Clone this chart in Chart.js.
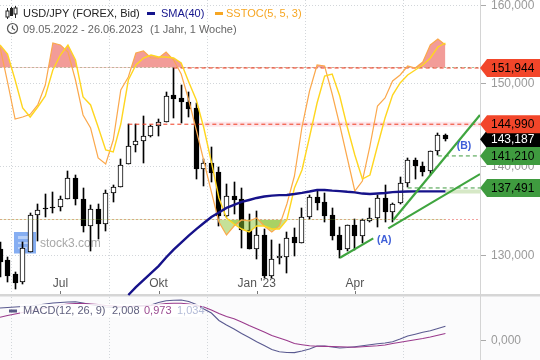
<!DOCTYPE html>
<html><head><meta charset="utf-8">
<script src="https://cdn.jsdelivr.net/npm/chart.js@4"></script>
<style>html,body{margin:0;padding:0;background:#fff}#w{position:relative;width:540px;height:360px}canvas{display:block}</style>
</head><body><div id="w"><canvas id="c" width="540" height="360"></canvas></div>
<script>
const opens=[130.67,129.48,127.97,127.16,130.37,134.46,135.22,135.37,135.29,136.20,138.60,136.23,133.24,135.10,133.39,136.88,137.63,140.22,142.46,142.94,143.54,144.73,145.30,148.56,148.20,147.74,146.93,139.64,140.34,139.29,134.35,136.57,136.23,132.75,130.70,132.17,127.80,129.66,129.84,131.95,131.36,134.24,136.42,135.90,134.43,132.20,130.64,133.31,132.12,133.79,134.06,136.31,134.80,135.75,138.02,140.70,139.99,139.41,141.76,143.69];
const closes=[129.30,127.76,127.05,130.81,134.40,134.96,135.14,135.18,136.20,138.60,136.20,133.24,135.07,133.46,136.88,137.56,140.11,142.41,142.94,143.54,144.73,145.30,148.40,148.10,147.74,146.88,139.71,140.41,139.25,134.35,136.54,136.16,132.75,130.70,132.17,127.80,129.56,129.88,131.84,131.36,134.24,136.42,135.81,134.32,132.12,130.59,133.29,132.12,133.87,134.06,136.31,134.80,135.64,138.02,140.70,139.99,139.36,141.76,143.65,143.19];
const highs=[131.40,129.84,128.22,131.46,134.63,135.64,136.76,137.02,136.61,139.44,138.98,137.48,135.56,135.67,137.25,137.79,140.85,145.01,145.01,145.99,144.89,145.59,148.90,151.94,149.80,148.90,147.55,140.85,142.26,139.95,137.94,138.17,137.51,134.55,134.88,132.86,131.65,131.21,132.53,132.97,135.27,136.65,137.17,136.91,135.22,133.12,133.31,133.98,134.01,135.22,136.69,137.80,135.78,138.75,140.97,140.93,140.53,141.83,143.89,143.77];
const lows=[127.69,127.16,126.35,126.92,130.37,131.54,134.25,134.63,134.91,136.20,135.59,132.56,130.48,131.79,132.67,135.93,137.63,140.22,141.71,140.41,143.42,143.58,145.30,145.78,145.10,145.83,138.55,137.71,138.20,133.24,134.24,134.55,130.75,130.70,129.62,127.52,127.52,129.05,128.11,129.94,131.36,133.95,134.99,133.68,131.65,129.73,130.45,130.56,131.32,133.68,133.12,133.68,133.68,135.67,137.63,138.48,138.90,138.98,141.33,142.97];
const sma40=[125.76,126.59,127.34,128.08,128.83,129.75,130.61,131.38,132.14,132.86,133.53,134.21,134.71,135.22,135.56,135.90,136.12,136.35,136.52,136.61,136.67,136.69,136.80,136.93,137.08,137.25,137.25,137.18,137.13,137.05,136.99,136.85,136.80,136.85,136.91,137.02,137.06,137.09,137.10,137.10,137.10,137.10,137.10];
const smaStart=17;
const stocK=[88.09,74.27,59.67,60.46,61.53,65.2,73.09,89.67,88.88,86.12,75.06,61.25,56.12,44.28,41.91,51.38,71.12,76.25,85.72,86.51,83.75,83.75,86.12,82.96,77.43,67.17,55.33,43.09,30.86,19.02,13.89,17.44,19.81,19.41,20.6,17.44,15.07,17.44,26.12,37.17,56.51,70.72,80.98,80.59,69.54,57.3,44.28,31.25,35.2,49.01,64.8,67.96,74.67,77.04,80.59,79.8,82.17,88.88,91.25,88.88];
const stocD=[88.88,85.33,75.06,64.01,60.46,64.41,68.75,79.01,84.93,88.88,82.96,68.35,65.2,56.51,47.44,46.65,57.7,75.06,80.98,83.75,84.93,84.14,84.14,83.75,81.77,74.27,67.17,56.12,42.7,28.49,20.6,18.23,16.25,15.07,17.44,17.44,16.25,16.25,19.81,32.44,39.54,52.57,65.99,76.64,77.43,68.75,56.51,45.46,35.99,37.57,49.01,60.07,69.14,73.88,77.04,79.01,80.98,83.75,88.09,89.67];
const macdLine=[4.67,4.74,4.81,4.88,4.96,5.10,5.25,5.39,5.46,5.54,5.58,5.39,5.17,4.96,4.81,4.74,4.74,4.81,4.96,5.03,5.10,5.46,5.71,5.78,5.83,5.61,5.17,4.52,3.94,2.86,2.20,1.62,0.97,0.39,-0.22,-0.77,-1.35,-1.67,-1.78,-1.80,-1.57,-1.28,-0.84,-0.84,-0.99,-1.13,-1.06,-0.94,-0.80,-0.65,-0.52,-0.41,-0.23,0.17,0.61,0.87,1.14,1.38,1.70,2.008];
const signalLine=[3.32,3.58,3.80,4.01,4.23,4.45,4.67,4.88,5.10,5.25,5.32,5.32,5.25,5.17,5.03,4.96,4.88,4.88,4.91,4.96,5.03,5.17,5.32,5.36,5.35,5.25,5.03,4.81,4.38,3.87,3.43,3.10,2.64,2.13,1.65,1.19,0.68,0.32,-0.04,-0.48,-0.65,-0.81,-0.87,-0.90,-0.91,-0.96,-0.99,-1.03,-0.96,-0.87,-0.80,-0.70,-0.48,-0.30,-0.12,0.07,0.25,0.46,0.72,0.973];
const xTickPos=[8,21,34,47];
const xTickNames=['Jul','Okt',"Jan '23",'Apr'];
const yTickVals=[130,140,150,160];
const macdTickVals=[0];
const levels=[151.944,144.990,143.187,141.210,137.491];
const levelLabels=['151,944','144,990','143,187','141,210','137,491'];
const levelFill=['#f2462a','#f2462a','#000000','#3f9b3f','#3f9b3f'];
const levelText=['#000','#000','#fff','#000','#000'];
const trendA1=[[45.03,129.73],[49.44,131.84]];
const trendA2=[[51.43,132.94],[63.58,139.09]];
const trendB=[[52.09,133.87],[63.58,146.11]];
const xMax=63.58;

const FONT='"Liberation Sans", Arial, sans-serif';
Chart.defaults.font.family=FONT;
const toXY=(arr,start=0)=>arr.map((y,i)=>({x:i+start,y}));
const hline=(v,a)=>[{x:a,y:v},{x:xMax,y:v}];
const seg=p=>p.map(([x,y])=>({x,y}));
const line=(label,data,yAxisID,color,width,order,extra={})=>Object.assign({type:'line',label,data,yAxisID,borderColor:color,borderWidth:width,pointRadius:0,tension:0,fill:false,order},extra);
const noPad=s=>{s.paddingTop=0;s.paddingBottom=0;s.paddingLeft=0;s.paddingRight=0;};
const hiFill={target:{value:80},above:'#f29c98',below:'transparent'};
const loFill={target:{value:20},above:'transparent',below:'rgba(140,195,50,.5)'};

const snapBars={id:'snapBars',afterDatasetsUpdate(ch){
  ch.data.datasets.forEach((d,k)=>{
    if(d.type==='line')return;
    ch.getDatasetMeta(k).data.forEach(el=>{el.x=Math.floor(el.x)+.5;el.y=Math.round(el.y);el.base=Math.round(el.base);});
  });
}};
const chromeBack={id:'chromeBack',beforeDraw(ch){
  const c=ch.ctx;c.save();
  c.fillStyle='#fbfbfc';c.fillRect(0,296,540,64);
  c.fillStyle='#d6d6d6';c.fillRect(0,294,540,2.5);
  c.fillStyle='#86aef2';c.fillRect(14,232,22,21.5);
  c.fillStyle='#b8d0f8';c.fillRect(18,236,14,3);c.fillRect(18,242,14,2);c.fillRect(18,247,9,2);
  c.fillStyle='#a8a8a8';c.font='12px '+FONT;c.textBaseline='middle';c.fillText('stock3.com',40,243.5);
  c.restore();
}};
const chromeFront={id:'chromeFront',afterDraw(ch){
  const c=ch.ctx,y=ch.scales.y,x=ch.scales.x;c.save();
  c.textBaseline='middle';
  c.strokeStyle='#777';c.lineWidth=1;
  xTickPos.forEach(p=>{const px=Math.round(x.getPixelForValue(p))+.5;c.beginPath();c.moveTo(px,291);c.lineTo(px,294);c.stroke();});
  c.strokeStyle='#222';c.fillStyle='#222';
  [[7,11,16,5,18],[11,9,14,4,15],[15,8,13,3,17]].forEach(([cx,t,b,h0,h1],i)=>{
    c.beginPath();c.moveTo(cx+.5,h0+3);c.lineTo(cx+.5,h1+1);c.stroke();
    if(i==1)c.fillRect(cx-1,t-1,3,b-t+3);else{c.fillStyle='#fff';c.fillRect(cx-1,t,3,b-t+1);c.strokeRect(cx-1,t,3,b-t+1);c.fillStyle='#222';}
  });
  c.font='11px '+FONT;
  c.fillStyle='#222';c.fillText('USD/JPY (FOREX, Bid)',23,13.5);
  c.fillStyle='#14148c';c.fillRect(147,12,8,3);c.fillText('SMA(40)',161,13.5);
  c.fillStyle='#f6a623';c.fillRect(215,12,8,3);c.fillText('SSTOC(5, 5, 3)',226,13.5);
  c.strokeStyle='#555';c.lineWidth=1.2;c.beginPath();c.arc(12.5,28.5,5,0,Math.PI*2);c.stroke();
  c.beginPath();c.moveTo(12.5,25.5);c.lineTo(12.5,28.5);c.lineTo(15,30);c.stroke();
  c.fillStyle='#666';c.fillText('09.05.2022 - 26.06.2023',23,29.5);c.fillText('(1 Jahr, 1 Woche)',150,29.5);
  c.fillStyle='rgba(255,255,255,.85)';c.fillRect(20,304,180,13);
  c.fillStyle='#5a5a86';c.fillRect(9,309.5,8,3);
  c.fillStyle='#60607f';c.fillText('MACD(12, 26, 9)',23,310.5);c.fillText('2,008',112,310.5);
  c.fillStyle='#9a4a90';c.fillText('0,973',144,310.5);
  c.fillStyle='#b4bcd8';c.fillText('1,034',177,310.5);
  c.fillStyle='#3f5fd8';c.font='bold 10.5px '+FONT;c.textAlign='center';
  c.fillText('(A)',x.getPixelForValue(50.9),y.getPixelForValue(131.65));
  c.fillText('(B)',x.getPixelForValue(61.45),y.getPixelForValue(142.4));
  c.textAlign='left';
  [2,0,1,3,4].forEach(i=>{
    const py=y.getPixelForValue(levels[i]);
    c.fillStyle=levelFill[i];c.beginPath();c.moveTo(480,py);c.lineTo(487,py-9);c.lineTo(540,py-9);c.lineTo(540,py+9);c.lineTo(487,py+9);c.closePath();c.fill();
  });
  [2,0,1,3,4].forEach(i=>{
    const py=y.getPixelForValue(levels[i]);
    c.fillStyle=levelText[i];c.font='12px '+FONT;c.fillText(levelLabels[i],491,py+.5);
  });
  c.restore();
}};

new Chart(document.getElementById('c'),{
  type:'bar',
  data:{datasets:[
    {label:'wick',data:lows.map((l,i)=>({x:i,y:[l,highs[i]]})),backgroundColor:'#000',barThickness:1,grouped:false,order:20,yAxisID:'y'},
    {label:'body',data:opens.map((o,i)=>({x:i,y:[o,closes[i]]})),backgroundColor:opens.map((o,i)=>closes[i]>=o?'#fff':'#000'),borderColor:'#000',borderWidth:1,borderSkipped:false,barThickness:5,grouped:false,order:19,yAxisID:'y'},
    line('band145',hline(levels[1],27),'y','rgba(250,190,200,.4)',5,24),
    line('band137',hline(137.10,59),'y','#d6e8c6',4,24),
    line('lvl80',[{x:0,y:80},{x:xMax,y:80}],'stoch','#9cc79c',1,23,{borderDash:[2,2]}),
    line('lvl20',[{x:0,y:20},{x:xMax,y:20}],'stoch','#f2a3a0',1,23,{borderDash:[2,2]}),
    line('l152',hline(levels[0],23),'y','#f03a20',1,10,{borderDash:[4,3]}),
    line('l145',hline(levels[1],17),'y','#f03a20',1,10,{borderDash:[4,3]}),
    line('l141',hline(levels[3],58),'y','#3f9b3f',1,10,{borderDash:[4,3]}),
    line('l137',hline(levels[4],54),'y','#3f9b3f',1,10,{borderDash:[4,3]}),
    line('fillHiK',toXY(stocK),'stoch','transparent',0,22,{fill:hiFill}),
    line('fillHiD',toXY(stocD),'stoch','transparent',0,22,{fill:hiFill}),
    line('fillLoK',toXY(stocK),'stoch','transparent',0,9,{fill:loFill}),
    line('fillLoD',toXY(stocD),'stoch','transparent',0,9,{fill:loFill}),
    line('SSTOC K',toXY(stocK),'stoch','#fba84c',1.2,8),
    line('SSTOC D',toXY(stocD),'stoch','#ffd61f',1.4,7),
    line('SMA(40)',toXY(sma40,smaStart),'y','#16128a',2.4,6),
    line('A1',seg(trendA1),'y','#3fa53f',2.2,3),
    line('A2',seg(trendA2),'y','#3fa53f',2.2,3),
    line('B',seg(trendB),'y','#3fa53f',2.2,3),
    line('MACD',toXY(macdLine),'macd','#5a5a90',1.1,2),
    line('Signal',toXY(signalLine),'macd','#9a3a8c',1.1,1)
  ]},
  plugins:[snapBars,chromeBack,chromeFront],
  options:{
    responsive:false,animation:false,
    layout:{padding:0},
    plugins:{legend:{display:false},tooltip:{enabled:false}},
    scales:{
      x:{type:'linear',min:0,max:xMax,bounds:'data',offset:false,
        afterBuildTicks:s=>{s.ticks=xTickPos.map(v=>({value:v}));},
        afterFit:s=>{s.height=0;noPad(s);},
        grid:{color:'#d2d6da',tickLength:0},border:{display:false,dash:[1,2]},
        ticks:{mirror:true,autoSkip:false,maxRotation:0,color:'#555',font:{size:12},padding:69,z:1,
          callback:v=>xTickNames[xTickPos.indexOf(v)]}},
      y:{type:'logarithmic',position:'right',weight:1,min:119.13,max:160.80,bounds:'data',
        afterBuildTicks:s=>{s.ticks=yTickVals.map(v=>({value:v}));},
        afterFit:s=>{s.width=60;noPad(s);},
        grid:{color:'#d2d6da',tickLength:6,tickColor:'#aaa'},border:{display:true,color:'#d4d4d4',dash:[1,2]},
        ticks:{autoSkip:false,color:'#9a9a9a',font:{size:12},padding:5,
          callback:v=>v.toFixed(3).replace('.',',')}},
      macd:{type:'linear',position:'right',weight:0,min:-2.87,max:49.30,bounds:'data',
        afterBuildTicks:s=>{s.ticks=macdTickVals.map(v=>({value:v}));},
        afterFit:s=>{s.width=0;noPad(s);},
        grid:{drawOnChartArea:false,tickLength:6,tickColor:'#aaa'},border:{display:false},
        ticks:{mirror:true,autoSkip:false,color:'#9a9a9a',font:{size:12},padding:41,
          callback:v=>v.toFixed(3).replace('.',',')}},
      stoch:{type:'linear',display:false,min:-35.45,max:106.64,bounds:'data'}
    }
  }
});
</script></body></html>
